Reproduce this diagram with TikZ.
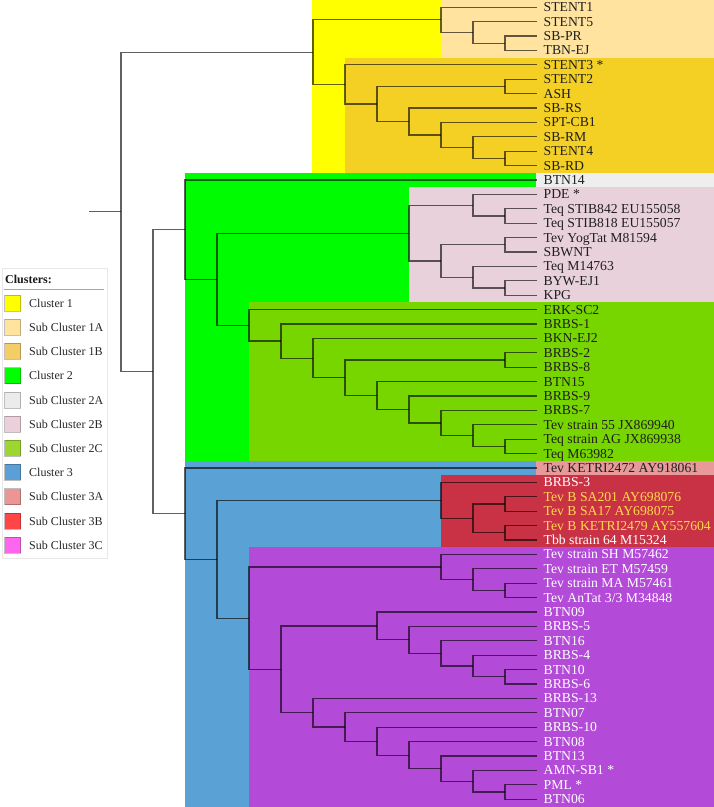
\documentclass[tikz,border=0pt]{standalone}
\usepackage{fontspec}
\setmainfont{Liberation Serif}
\definecolor{cone}{HTML}{FFFF00}
\definecolor{conea}{HTML}{FFE39E}
\definecolor{coneb}{HTML}{F5D024}
\definecolor{ctwo}{HTML}{00FC00}
\definecolor{ctwoa}{HTML}{EEEEEE}
\definecolor{ctwob}{HTML}{E9D1DC}
\definecolor{ctwoc}{HTML}{77D500}
\definecolor{cthree}{HTML}{5AA2D6}
\definecolor{cthreea}{HTML}{E89A9A}
\definecolor{cthreeb}{HTML}{C93245}
\definecolor{cthreec}{HTML}{B34AD8}
\definecolor{lgone}{HTML}{FFFF00}
\definecolor{lgonea}{HTML}{FFE4A0}
\definecolor{lgoneb}{HTML}{F3CD66}
\definecolor{lgtwo}{HTML}{00FF00}
\definecolor{lgtwoa}{HTML}{EBEBEB}
\definecolor{lgtwob}{HTML}{EBD0DC}
\definecolor{lgtwoc}{HTML}{9ED631}
\definecolor{lgthree}{HTML}{5B9FD6}
\definecolor{lgthreea}{HTML}{EB9595}
\definecolor{lgthreeb}{HTML}{FF4545}
\definecolor{lgthreec}{HTML}{FF66EE}
\definecolor{goldtxt}{HTML}{FFD84A}
\begin{document}
\begin{tikzpicture}[x=1pt,y=-1pt,
  br/.style={draw=black, draw opacity=0.62, line width=1.1pt},
  leaf/.style={anchor=west, inner xsep=6.5pt, inner ysep=0pt, text height=12.1pt, text depth=3pt, font=\fontsize{13.7}{14}\selectfont, text=black!88},
  wleaf/.style={leaf, text=white},
  gleaf/.style={leaf, text=goldtxt},
  sw/.style={draw=black, draw opacity=0.25, line width=0.6pt},
  lgtext/.style={anchor=base west, inner sep=0pt, font=\fontsize{12}{14}\selectfont, text=black!85}
]
\useasboundingbox (0,0) rectangle (714,807);
\fill[white] (0,0) rectangle (714,807);
% cluster backgrounds
\fill[cone] (312,0) rectangle (714,172.8);
\fill[conea] (441,0) rectangle (714,57.6);
\fill[coneb] (344.5,57.6) rectangle (714,172.8);
\fill[ctwo] (184.5,172.8) rectangle (714,460.8);
\fill[ctwoa] (536,172.8) rectangle (714,187.2);
\fill[ctwob] (409,187.2) rectangle (714,302.4);
\fill[ctwoc] (248.5,302.4) rectangle (714,460.8);
\fill[cthree] (184.5,460.8) rectangle (714,807);
\fill[cthreea] (536,460.8) rectangle (714,475.2);
\fill[cthreeb] (441,475.2) rectangle (714,547.2);
\fill[cthreec] (248.5,547.2) rectangle (714,807);

% leaves
\node[leaf] (t0) at (537,7.2) {STENT1};
\node[leaf] (t1) at (537,21.6) {STENT5};
\node[leaf] (t2) at (537,36.0) {SB-PR};
\node[leaf] (t3) at (537,50.4) {TBN-EJ};
\node[leaf] (t4) at (537,64.8) {STENT3 *};
\node[leaf] (t5) at (537,79.2) {STENT2};
\node[leaf] (t6) at (537,93.6) {ASH};
\node[leaf] (t7) at (537,108.0) {SB-RS};
\node[leaf] (t8) at (537,122.4) {SPT-CB1};
\node[leaf] (t9) at (537,136.8) {SB-RM};
\node[leaf] (t10) at (537,151.2) {STENT4};
\node[leaf] (t11) at (537,165.6) {SB-RD};
\node[leaf] (t12) at (537,180.0) {BTN14};
\node[leaf] (t13) at (537,194.4) {PDE *};
\node[leaf] (t14) at (537,208.8) {Teq STIB842 EU155058};
\node[leaf] (t15) at (537,223.2) {Teq STIB818 EU155057};
\node[leaf] (t16) at (537,237.6) {Tev YogTat M81594};
\node[leaf] (t17) at (537,252.0) {SBWNT};
\node[leaf] (t18) at (537,266.4) {Teq M14763};
\node[leaf] (t19) at (537,280.8) {BYW-EJ1};
\node[leaf] (t20) at (537,295.2) {KPG};
\node[leaf] (t21) at (537,309.6) {ERK-SC2};
\node[leaf] (t22) at (537,324.0) {BRBS-1};
\node[leaf] (t23) at (537,338.4) {BKN-EJ2};
\node[leaf] (t24) at (537,352.8) {BRBS-2};
\node[leaf] (t25) at (537,367.2) {BRBS-8};
\node[leaf] (t26) at (537,381.6) {BTN15};
\node[leaf] (t27) at (537,396.0) {BRBS-9};
\node[leaf] (t28) at (537,410.4) {BRBS-7};
\node[leaf] (t29) at (537,424.8) {Tev strain 55 JX869940};
\node[leaf] (t30) at (537,439.2) {Teq strain AG JX869938};
\node[leaf] (t31) at (537,453.6) {Teq M63982};
\node[leaf] (t32) at (537,468.0) {Tev KETRI2472 AY918061};
\node[wleaf] (t33) at (537,482.4) {BRBS-3};
\node[gleaf] (t34) at (537,496.8) {Tev B SA201 AY698076};
\node[gleaf] (t35) at (537,511.2) {Tev B SA17 AY698075};
\node[gleaf] (t36) at (537,525.6) {Tev B KETRI2479 AY557604};
\node[wleaf] (t37) at (537,540.0) {Tbb strain 64 M15324};
\node[wleaf] (t38) at (537,554.4) {Tev strain SH M57462};
\node[wleaf] (t39) at (537,568.8) {Tev strain ET M57459};
\node[wleaf] (t40) at (537,583.2) {Tev strain MA M57461};
\node[wleaf] (t41) at (537,597.6) {Tev AnTat 3/3 M34848};
\node[wleaf] (t42) at (537,612.0) {BTN09};
\node[wleaf] (t43) at (537,626.4) {BRBS-5};
\node[wleaf] (t44) at (537,640.8) {BTN16};
\node[wleaf] (t45) at (537,655.2) {BRBS-4};
\node[wleaf] (t46) at (537,669.6) {BTN10};
\node[wleaf] (t47) at (537,684.0) {BRBS-6};
\node[wleaf] (t48) at (537,698.4) {BRBS-13};
\node[wleaf] (t49) at (537,712.8) {BTN07};
\node[wleaf] (t50) at (537,727.2) {BRBS-10};
\node[wleaf] (t51) at (537,741.6) {BTN08};
\node[wleaf] (t52) at (537,756.0) {BTN13};
\node[wleaf] (t53) at (537,770.4) {AMN-SB1 *};
\node[wleaf] (t54) at (537,784.8) {PML *};
\node[wleaf] (t55) at (537,799.2) {BTN06};

% internal nodes
\coordinate (a1) at (505,43.2);
\coordinate (a2) at (473,32.4);
\coordinate (a3) at (441,19.8);
\coordinate (b1) at (505,86.4);
\coordinate (b2) at (505,158.4);
\coordinate (b3) at (473,147.6);
\coordinate (b4) at (441,135);
\coordinate (b5) at (409,121.5);
\coordinate (b6) at (377,103.95);
\coordinate (b7) at (345,84.375);
\coordinate (c1) at (313,52.09);
\coordinate (d1) at (505,216);
\coordinate (d2) at (473,205.2);
\coordinate (d3) at (505,244.8);
\coordinate (d4) at (505,288);
\coordinate (d5) at (473,277.2);
\coordinate (d6) at (441,261);
\coordinate (d7) at (409,233.1);
\coordinate (e1) at (505,446.4);
\coordinate (e2) at (473,435.6);
\coordinate (e3) at (441,423);
\coordinate (e4) at (409,409.5);
\coordinate (e5) at (377,395.55);
\coordinate (e6) at (505,360);
\coordinate (e7) at (345,377.775);
\coordinate (e8) at (313,358.09);
\coordinate (e9) at (281,341.04);
\coordinate (e10) at (249,325.32);
\coordinate (f1) at (217,279.21);
\coordinate (c2) at (185,229.6);
\coordinate (g1) at (505,504);
\coordinate (g2) at (505,532.8);
\coordinate (g3) at (473,518.4);
\coordinate (g4) at (441,500.4);
\coordinate (h1) at (505,590.4);
\coordinate (h2) at (473,579.6);
\coordinate (h3) at (441,567);
\coordinate (i1) at (505,676.8);
\coordinate (i2) at (473,666);
\coordinate (i3) at (441,653.4);
\coordinate (i4) at (409,639.9);
\coordinate (i5) at (377,625.95);
\coordinate (j1) at (505,792);
\coordinate (j2) at (473,781.2);
\coordinate (j3) at (441,768.6);
\coordinate (j4) at (409,755.1);
\coordinate (j5) at (377,741.15);
\coordinate (j6) at (345,726.975);
\coordinate (j7) at (313,712.69);
\coordinate (k1) at (281,669.32);
\coordinate (k2) at (249,618.16);
\coordinate (k3) at (217,559.28);
\coordinate (c3) at (185,513.64);
\coordinate (m1) at (153,371.62);
\coordinate (r) at (121,211.86);
\coordinate (rs) at (89,211.86);

% branches
\draw[br] (rs) -- (r);
\foreach \p/\c in {r/c1, r/m1, m1/c2, m1/c3,
  c1/a3, c1/b7, a3/t0.west, a3/a2, a2/t1.west, a2/a1, a1/t2.west, a1/t3.west,
  b7/t4.west, b7/b6, b6/b1, b6/b5, b1/t5.west, b1/t6.west, b5/t7.west, b5/b4,
  b4/t8.west, b4/b3, b3/t9.west, b3/b2, b2/t10.west, b2/t11.west,
  c2/t12.west, c2/f1, f1/d7, f1/e10, d7/d2, d7/d6, d2/t13.west, d2/d1,
  d1/t14.west, d1/t15.west, d6/d3, d6/d5, d3/t16.west, d3/t17.west,
  d5/t18.west, d5/d4, d4/t19.west, d4/t20.west,
  e10/t21.west, e10/e9, e9/t22.west, e9/e8, e8/t23.west, e8/e7, e7/e6, e7/e5,
  e6/t24.west, e6/t25.west, e5/t26.west, e5/e4, e4/t27.west, e4/e3,
  e3/t28.west, e3/e2, e2/t29.west, e2/e1, e1/t30.west, e1/t31.west,
  c3/t32.west, c3/k3, k3/g4, k3/k2, g4/t33.west, g4/g3, g3/g1, g3/g2,
  g1/t34.west, g1/t35.west, g2/t36.west, g2/t37.west,
  k2/h3, k2/k1, h3/t38.west, h3/h2, h2/t39.west, h2/h1, h1/t40.west, h1/t41.west,
  k1/i5, k1/j7, i5/t42.west, i5/i4, i4/t43.west, i4/i3, i3/t44.west, i3/i2,
  i2/t45.west, i2/i1, i1/t46.west, i1/t47.west,
  j7/t48.west, j7/j6, j6/t49.west, j6/j5, j5/t50.west, j5/j4, j4/t51.west, j4/j3,
  j3/t52.west, j3/j2, j2/t53.west, j2/j1, j1/t54.west, j1/t55.west}
  \draw[br] (\p) |- (\c);

% legend
\draw[black!9, fill=white] (2,268) rectangle (107,558);
\node[anchor=base west, inner sep=0pt, font=\bfseries\fontsize{12}{14}\selectfont, text=black!90] (lgtitle) at (5,283) {Clusters:};
\draw[black!35, line width=1pt] (4,289) -- (104,289);
\foreach \i/\col/\lab in {0/lgone/Cluster 1, 1/lgonea/Sub Cluster 1A, 2/lgoneb/Sub Cluster 1B,
  3/lgtwo/Cluster 2, 4/lgtwoa/Sub Cluster 2A, 5/lgtwob/Sub Cluster 2B, 6/lgtwoc/Sub Cluster 2C,
  7/lgthree/Cluster 3, 8/lgthreea/Sub Cluster 3A, 9/lgthreeb/Sub Cluster 3B, 10/lgthreec/Sub Cluster 3C}
{
  \path[sw, fill=\col] (4.5,{295+24.2*\i}) rectangle (20.5,{311+24.2*\i});
  \node[lgtext] (lg\i) at (29,{307.2+24.2*\i}) {\lab};
}
\end{tikzpicture}
\end{document}
